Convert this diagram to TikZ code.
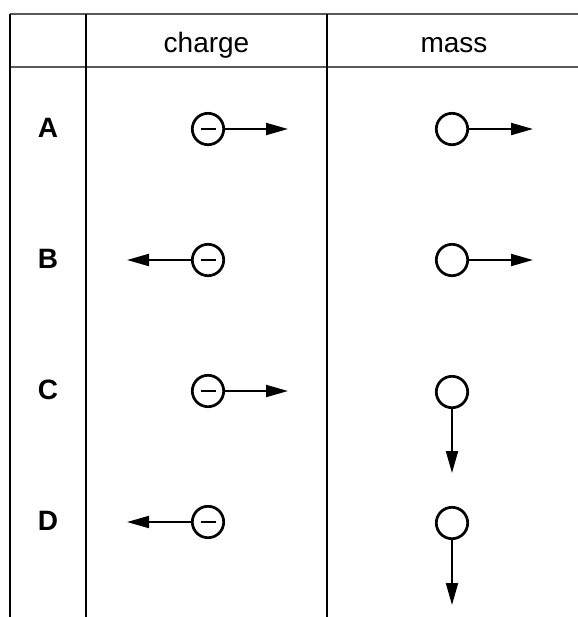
\documentclass[tikz,border=0pt]{standalone}
\usepackage{fontspec}
\setmainfont{Liberation Sans}
\usepackage{tikz}
\usetikzlibrary{arrows.meta}
\tikzstyle{arrow} = [line width=1pt,-{Triangle[length=11pt,width=6pt]}]
\tikzstyle{particle} = [circle, draw=black, line width=1.35pt, minimum size=15.7pt, inner sep=0pt]
\tikzstyle{hline} = [draw=black!65, line width=0.75pt]
\tikzstyle{vline} = [draw=black, line width=0.7pt]
\tikzstyle{head} = [anchor=base, font=\fontsize{14}{17}\selectfont]
\tikzstyle{rowlabel} = [font=\fontsize{14}{17}\selectfont\bfseries]
\newcommand{\minussign}{\rule{7.5pt}{0.75pt}}

\begin{document}
\begin{tikzpicture}[x=0.5pt, y=-0.5pt]
		\useasboundingbox (0,0) rectangle (578,617);
		% table lines
		\draw [hline] (10,14) -- (578,14);
		\draw [hline] (10,67) -- (578,67);
		\draw [vline] (10,14) -- (10,617);
		\draw [vline] (86,14) -- (86,617);
		\draw [vline] (327,14) -- (327,617);
		% headings
		\node (hcharge) [head] at (206.5,52) {charge};
		\node (hmass) [head] at (454,52) {mass};
		\node (la) [rowlabel] at (48,128) {A};
		\node (lb) [rowlabel] at (48,259) {B};
		\node (lc) [rowlabel] at (48,390) {C};
		\node (ld) [rowlabel] at (48,521) {D};
		% charge column
		\node (qa) [particle] at (208,129) {\minussign};
		\coordinate (qa-end) at (288,129);
		\draw [arrow] (qa) -- (qa-end);
		\node (qb) [particle] at (208,260) {\minussign};
		\coordinate (qb-end) at (127,260);
		\draw [arrow] (qb) -- (qb-end);
		\node (qc) [particle] at (208,391) {\minussign};
		\coordinate (qc-end) at (288,391);
		\draw [arrow] (qc) -- (qc-end);
		\node (qd) [particle] at (208,522) {\minussign};
		\coordinate (qd-end) at (127,522);
		\draw [arrow] (qd) -- (qd-end);
		% mass column
		\node (ma) [particle] at (452,129) {};
		\coordinate (ma-end) at (533,129);
		\draw [arrow] (ma) -- (ma-end);
		\node (mb) [particle] at (452,260) {};
		\coordinate (mb-end) at (533,260);
		\draw [arrow] (mb) -- (mb-end);
		\node (mc) [particle] at (452,392) {};
		\coordinate (mc-end) at (452,473);
		\draw [arrow] (mc) -- (mc-end);
		\node (md) [particle] at (452,523) {};
		\coordinate (md-end) at (452,605);
		\draw [arrow] (md) -- (md-end);
\end{tikzpicture}
\end{document}
